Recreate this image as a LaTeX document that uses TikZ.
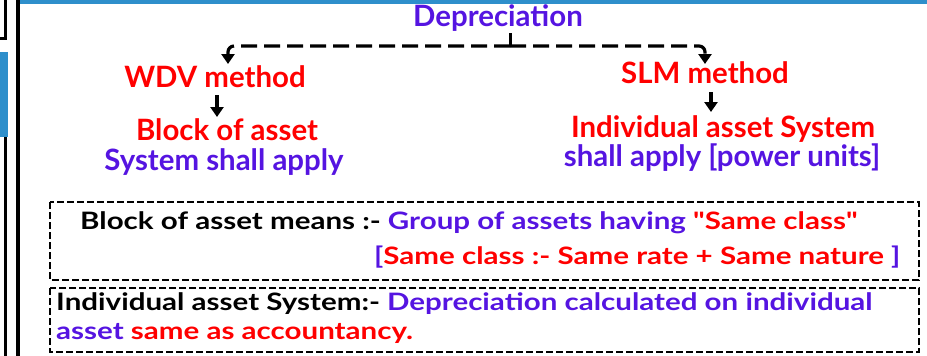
\documentclass[tikz,border=0pt]{standalone}
\usepackage{fontspec}
\setmainfont{Lato}
\newfontfamily\latoplain{Lato}
\usetikzlibrary{arrows.meta}
\definecolor{pur}{RGB}{85,20,225}
\definecolor{rd}{RGB}{255,0,0}
\definecolor{bl}{RGB}{46,143,203}
\newcommand{\stx}[1]{\scalebox{1.23}[1]{#1}}
\newcommand{\sq}{{\latoplain\bfseries"}}
\begin{document}
\begin{tikzpicture}[x=1pt,y=-1pt,
  txt/.style={inner sep=0pt,anchor=base west,font=\fontsize{24}{26}\selectfont\bfseries},
  ttl/.style={inner sep=0pt,anchor=base,font=\fontsize{29.4}{32}\selectfont\bfseries},
  conn/.style={line width=3.2pt,-{Triangle[width=13pt,length=10pt]}},
  dbox/.style={draw,line width=2pt,dash pattern=on 7pt off 3pt}]
\useasboundingbox (0,0) rectangle (927,356);
% frame
\fill[bl] (16,0) rectangle (927,3.5);
\fill[bl] (0,52) rectangle (8,137);
\draw[line width=3.5pt] (18,0) -- (18,356);
\draw[line width=3pt] (5.5,0) -- (5.5,38.5) -- (0,38.5);
\draw[line width=3pt] (5.5,137) -- (5.5,356);
% labels
\node[ttl,text=pur] (dep) at (498,27) {Depreciation};
\node[ttl,text=rd] (wdv) at (215,87) {WDV method};
\node[ttl,text=rd] (slm) at (705,83) {SLM method};
\node[ttl,text=rd] (boa) at (227,140) {Block of asset};
\node[ttl,text=pur] (ssa) at (224,170) {System shall apply};
\node[ttl,text=rd] (ias) at (723,137) {Individual asset System};
\node[ttl,text=pur] (sap) at (722,166) {shall apply [power units]};
% connectors
\coordinate (j) at (510,46);
\coordinate (jt) at (510,33);
\draw[line width=3pt] (jt) -- (j);
\draw[conn,dash pattern=on 16pt off 7pt,rounded corners=6pt] (j) -- (228,46) -- (228,64);
\draw[conn,dash pattern=on 16pt off 7pt,rounded corners=6pt] (j) -- (705,46) -- (705,64);
\coordinate (a1) at (217,95);
\coordinate (a1e) at (217,117);
\coordinate (a2) at (711,92);
\coordinate (a2e) at (711,112);
\draw[conn] (a1) -- (a1e);
\draw[conn] (a2) -- (a2e);
% boxes
\draw[dbox] (50,202) rectangle (919,280);
\draw[dbox] (50,288) rectangle (919,352);
\node[txt] (l1) at (80,229) {\stx{Block of asset means :- \textcolor{pur}{Group of assets having} \textcolor{rd}{\sq Same class\sq}}};
\node[txt,text=rd] (l2) at (374,264) {\stx{\textcolor{pur}{[}Same class :- Same rate + Same nature \textcolor{pur}{]}}};
\node[txt] (l3) at (56,310.5) {\stx{Individual asset System:- \textcolor{pur}{Depreciation calculated on individual}}};
\node[txt] (l4) at (56,339.5) {\stx{\textcolor{pur}{asset} \textcolor{rd}{same as accountancy.}}};
\end{tikzpicture}
\end{document}
